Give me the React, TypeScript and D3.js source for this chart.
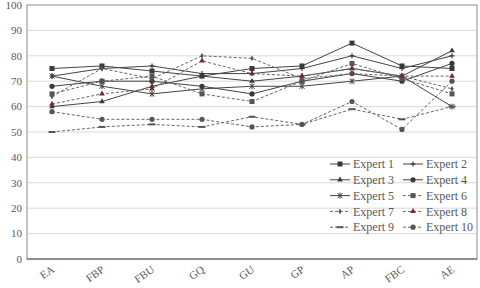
import React from 'react'
import * as d3 from 'd3'

const categories = ["EA", "FBP", "FBU", "GQ", "GU", "GP", "AP", "FBC", "AE"]
const yTicks = [0, 10, 20, 30, 40, 50, 60, 70, 80, 90, 100]

const expertNames = ["Expert 1", "Expert 2", "Expert 3", "Expert 4", "Expert 5",
    "Expert 6", "Expert 7", "Expert 8", "Expert 9", "Expert 10"]

const expert1 = [75, 76, 74, 72, 75, 76, 85, 76, 75]
const expert2 = [72, 75, 76, 73, 73, 75, 80, 75, 80]
const expert3 = [60, 62, 68, 72, 70, 72, 75, 72, 82]
const expert4 = [68, 70, 70, 68, 65, 70, 73, 70, 77]
const expert5 = [72, 68, 65, 67, 68, 68, 70, 72, 60]
const expert6 = [65, 70, 72, 65, 62, 70, 77, 71, 65]
const expert7 = [64, 75, 71, 80, 79, 71, 73, 72, 67]
const expert8 = [61, 65, 67, 78, 73, 72, 75, 72, 72]
const expert9 = [50, 52, 53, 52, 56, 53, 59, 55, 60]
const expert10 = [58, 55, 55, 55, 52, 53, 62, 51, 70]

const seriesValues = [expert1, expert2, expert3, expert4, expert5,
    expert6, expert7, expert8, expert9, expert10]

// marker kind per expert, and whether the line is dashed
const markers = ["square", "plus", "triangle", "circle", "star",
    "square", "diamond", "triangle", "dash", "circle"]

const W = 480
const H = 288
const left = 27
const right = 477
const top = 5
const bottom = 259
const font = "'Liberation Serif', 'DejaVu Serif', serif"

function Marker({kind, x, y, color}: {kind: string, x: number, y: number, color: string}) {
    if (kind === "square") return <rect x={x - 2.5} y={y - 2.5} width={5} height={5} fill={color} />
    if (kind === "circle") return <circle cx={x} cy={y} r={2.6} fill={color} />
    if (kind === "triangle") {
        const p = d3.symbol().type(d3.symbolTriangle).size(14)()
        return <path d={p || ""} transform={`translate(${x},${y})`} fill={color} />
    }
    if (kind === "diamond") {
        const p = d3.symbol().type(d3.symbolDiamond).size(10)()
        return <path d={p || ""} transform={`translate(${x},${y})`} fill={color} />
    }
    if (kind === "plus") {
        return <g stroke={color} strokeWidth={1.2}>
            <line x1={x - 2.5} x2={x + 2.5} y1={y} y2={y} />
            <line x1={x} x2={x} y1={y - 2.5} y2={y + 2.5} />
        </g>
    }
    if (kind === "star") {
        return <g stroke={color} strokeWidth={1}>
            <line x1={x - 2.5} x2={x + 2.5} y1={y - 2.5} y2={y + 2.5} />
            <line x1={x - 2.5} x2={x + 2.5} y1={y + 2.5} y2={y - 2.5} />
            <line x1={x} x2={x} y1={y - 3} y2={y + 3} />
        </g>
    }
    // dash
    return <line x1={x - 3.5} x2={x + 3.5} y1={y} y2={y} stroke={color} strokeWidth={2} />
}

function App() {
    const xScale = d3.scaleBand().domain(categories).range([left, right]).paddingInner(0).paddingOuter(0)
    const cx = (c: string) => (xScale(c) || 0) + xScale.bandwidth() / 2
    const yScale = d3.scaleLinear().domain([0, 100]).range([bottom, top])

    const line = d3.line<number>()
        .x((d, i) => cx(categories[i]))
        .y(d => yScale(d))

    return (
        <div style={{position: "absolute", left: 0, top: 0}}>
            <svg width={W} height={H} style={{display: "block", background: "#fff"}}>
                {yTicks.filter(t => t > 0 && t < 100).map(t =>
                    <line key={t} x1={left} x2={right} y1={yScale(t)} y2={yScale(t)} stroke="#d9d9d9" strokeWidth={1} />
                )}
                <rect x={left} y={top} width={right - left} height={bottom - top} fill="none" stroke="#8c8c8c" strokeWidth={1} />
                <line x1={left} x2={right} y1={bottom} y2={bottom} stroke="#595959" strokeWidth={1} />
                {yTicks.map(t =>
                    <text key={t} x={22} y={yScale(t)} dy="0.35em" textAnchor="end"
                        fontFamily={font} fontSize={11} fill="#595959">{t}</text>
                )}
                {categories.map(c =>
                    <text key={c} transform={`translate(${cx(c) + 1},${bottom + 9}) rotate(-35)`}
                        textAnchor="end" dy="0.35em" fontFamily={font} fontSize={11} fill="#595959">{c}</text>
                )}
                {seriesValues.map((vals, s) => {
                    const dashed = s >= 5
                    const color = s === 7 ? "#7a2a2a" : (dashed ? "#555" : "#3a3a3a")
                    const lineColor = dashed ? "#666" : "#444"
                    return <g key={s}>
                        <path d={line(vals) || ""} fill="none" stroke={lineColor} strokeWidth={1}
                            strokeDasharray={dashed ? "3,2" : undefined} />
                        {vals.map((v, i) =>
                            <Marker key={i} kind={markers[s]} x={cx(categories[i])} y={yScale(v)} color={color} />
                        )}
                    </g>
                })}
                {expertNames.map((name, s) => {
                    const col = s % 2
                    const row = Math.floor(s / 2)
                    const lx = 330 + col * 73
                    const ly = 164 + row * 15.8
                    const dashed = s >= 5
                    const color = s === 7 ? "#7a2a2a" : (dashed ? "#555" : "#3a3a3a")
                    return <g key={name}>
                        <line x1={lx} x2={lx + 20} y1={ly} y2={ly} stroke={dashed ? "#666" : "#444"}
                            strokeWidth={1} strokeDasharray={dashed ? "3,2" : undefined} />
                        <Marker kind={markers[s]} x={lx + 10} y={ly} color={color} />
                        <text x={lx + 23} y={ly} dy="0.35em" fontFamily={font} fontSize={12} fill="#595959">{name}</text>
                    </g>
                })}
            </svg>
        </div>
    )
}

export default App
